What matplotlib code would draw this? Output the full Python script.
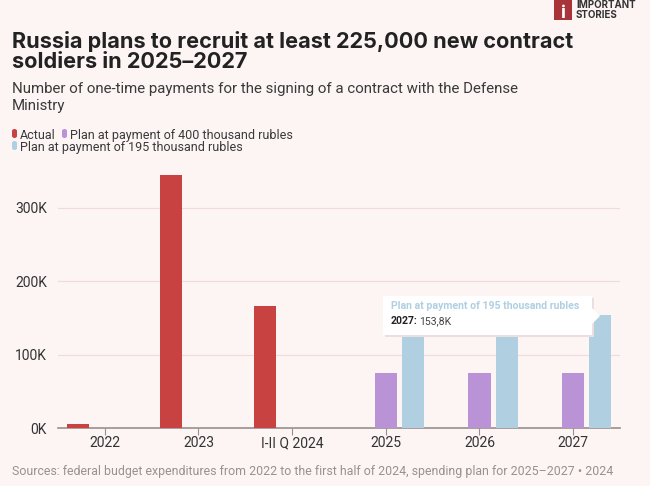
import numpy as np
import matplotlib
matplotlib.use("Agg")
import matplotlib.pyplot as plt
from matplotlib.patches import FancyBboxPatch, Rectangle, Polygon

# ----------------- Données ----------------- #
categories = ["2022", "2023", "I-II Q 2024", "2025", "2026", "2027"]
actual = [5500, 345000, 166000, None, None, None]
plan_400 = [None, None, None, 75000, 75000, 75000]
plan_195 = [None, None, None, 153800, 153800, 153800]
y_ticks = [0, 100000, 200000, 300000]
y_labels = ["0K", "100K", "200K", "300K"]

bg = "#fdf4f4"
c_red = "#c94242"
c_purple = "#ba92d6"
c_blue = "#b0d0e2"

W, H = 650, 486
fig = plt.figure(figsize=(W / 100, H / 100), dpi=100, facecolor=bg)
plt.rcParams['font.family'] = ['Roboto', 'DejaVu Sans']
bold_f = ["Inter", "DejaVu Sans"]

def fx(px):
    return px / W

def fy(py):
    return 1 - py / H

ax = fig.add_axes([fx(58), fy(428), fx(620) - fx(58), fy(160) - fy(428)])
ax.set_facecolor(bg)

x = np.arange(len(categories))
bw = 0.235
offs = 0.29
for vals, off, col in [(actual, -offs, c_red), (plan_400, 0, c_purple), (plan_195, offs, c_blue)]:
    xs = [xi + off for xi, v in zip(x, vals) if v is not None]
    vs = [v for v in vals if v is not None]
    ax.bar(xs, vs, width=bw, color=col, zorder=3)

ax.set_xlim(-0.5, len(categories) - 0.5)
ax.set_ylim(0, 365000)
ax.set_yticks(y_ticks)
ax.set_yticklabels(y_labels, fontsize=10, color="#333333")
ax.set_xticks(x)
ax.set_xticklabels(categories, fontsize=10, color="#333333")
ax.grid(axis="y", color="#eedcdc", linewidth=0.8, zorder=0)
for s in ["top", "right", "left"]:
    ax.spines[s].set_visible(False)
ax.spines["bottom"].set_color("#9a8f8f")
ax.spines["bottom"].set_linewidth(1.2)
ax.tick_params(axis="y", length=0, pad=8)
ax.tick_params(axis="x", length=5, color="#9a8f8f", pad=1)

# ----------------- Tooltip ----------------- #
tip = FancyBboxPatch((fx(383), fy(335)), fx(592) - fx(383), fy(296) - fy(335),
                     boxstyle="square,pad=0", transform=fig.transFigure,
                     facecolor="white", edgecolor="none", zorder=10)
shadow = FancyBboxPatch((fx(385), fy(337)), fx(592) - fx(383), fy(296) - fy(335),
                        boxstyle="square,pad=0", transform=fig.transFigure,
                        facecolor="#ecdede", edgecolor="none", zorder=9)
arrow = Polygon([(fx(592), fy(308)), (fx(600), fy(316)), (fx(592), fy(324))],
                closed=True, transform=fig.transFigure, facecolor="white",
                edgecolor="none", zorder=10)
fig.patches.extend([shadow, tip, arrow])
fig.text(fx(391), fy(309), "Plan at payment of 195 thousand rubles", fontsize=7.6,
         fontweight="bold", color=c_blue, va="baseline", zorder=11)
fig.text(fx(391), fy(324), "2027:", fontsize=7.6, fontweight="bold",
         color="#222222", va="baseline", zorder=11)
fig.text(fx(419), fy(324), "153,8K", fontsize=7.6, color="#444444",
         va="baseline", zorder=11)

# ----------------- Textes ----------------- #
fig.text(fx(12), fy(48), "Russia plans to recruit at least 225,000 new contract",
         fontsize=15.6, fontweight="bold", color="#222222", va="baseline",
         family=bold_f)
fig.text(fx(12), fy(68), "soldiers in 2025\u20132027",
         fontsize=15.6, fontweight="bold", color="#222222", va="baseline",
         family=bold_f)
fig.text(fx(12), fy(93), "Number of one-time payments for the signing of a contract with the Defense",
         fontsize=10.8, color="#3a3a3a", va="baseline")
fig.text(fx(12), fy(110), "Ministry",
         fontsize=10.8, color="#3a3a3a", va="baseline")

# légende
leg = [(12, 139, c_red, "Actual"), (62, 139, c_purple, "Plan at payment of 400 thousand rubles"),
       (12, 151, c_blue, "Plan at payment of 195 thousand rubles")]
for lx, ly, col, lab in leg:
    fig.patches.append(FancyBboxPatch((fx(lx), fy(ly - 1)), fx(5), fy(0) - fy(9),
                                      boxstyle="round,pad=0,rounding_size=0.004",
                                      transform=fig.transFigure, facecolor=col,
                                      edgecolor="none"))
    fig.text(fx(lx + 8), fy(ly), lab, fontsize=9.0, color="#3a3a3a",
             va="baseline")

fig.text(fx(12), fy(475),
         "Sources: federal budget expenditures from 2022 to the first half of 2024, spending plan for 2025\u20132027 \u2022 2024",
         fontsize=8.9, color="#9a9090", va="baseline")

# logo
fig.patches.append(Rectangle((fx(554), fy(20)), fx(18), fy(0) - fy(20),
                             transform=fig.transFigure, facecolor="#a8343a",
                             edgecolor="none"))
fig.text(fx(563), fy(18), "i", fontsize=13, fontweight="bold", color="white",
         ha="center", va="baseline", family=bold_f)
fig.text(fx(576), fy(8), "IMPORTANT", fontsize=7, fontweight="bold",
         color="#333333", va="baseline", family=bold_f)
fig.text(fx(576), fy(18), "STORIES", fontsize=7, fontweight="bold",
         color="#333333", va="baseline", family=bold_f)

fig.savefig("out.png", dpi=100, facecolor=bg)
